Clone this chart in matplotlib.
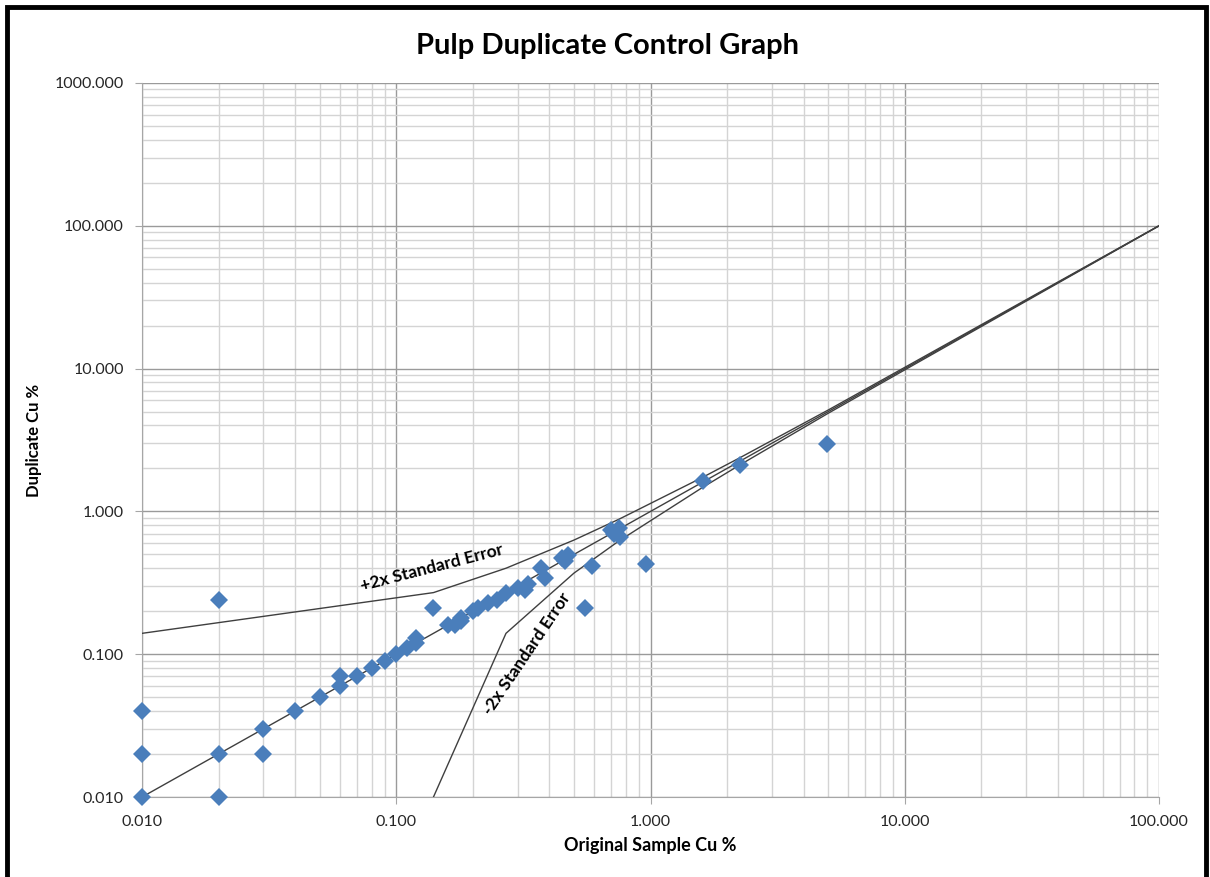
import matplotlib.pyplot as plt
from matplotlib.patches import Rectangle
from matplotlib.ticker import LogLocator, FixedLocator, FuncFormatter, NullFormatter

plt.rcParams['font.family'] = ['Lato', 'DejaVu Sans']

# Duplikatpar lest av fra grafen (original, duplikat)
original = [0.01, 0.01, 0.01, 0.02, 0.02, 0.02, 0.03, 0.03, 0.04, 0.05,
            0.06, 0.06, 0.07, 0.08, 0.09, 0.10, 0.11, 0.12, 0.12, 0.14,
            0.16, 0.17, 0.18, 0.18, 0.20, 0.21, 0.23, 0.25, 0.27, 0.30,
            0.32, 0.33, 0.37, 0.385, 0.45, 0.475, 0.46, 0.55, 0.59, 0.70,
            0.75, 0.76, 0.72, 0.96, 1.61, 2.25, 4.95]
duplicate = [0.04, 0.02, 0.01, 0.24, 0.02, 0.01, 0.03, 0.02, 0.04, 0.05,
             0.07, 0.06, 0.07, 0.08, 0.09, 0.10, 0.11, 0.13, 0.12, 0.21,
             0.16, 0.16, 0.17, 0.18, 0.20, 0.21, 0.23, 0.24, 0.27, 0.29,
             0.28, 0.31, 0.40, 0.34, 0.47, 0.495, 0.45, 0.21, 0.415, 0.74,
             0.76, 0.665, 0.70, 0.43, 1.63, 2.10, 2.95]

# 1:1-linje og +/- 2x standardfeil (knekkpunkter lest av)
line_x = [0.01, 100]
line_y = [0.01, 100]
plus_x = [0.01, 0.14, 0.27, 0.5, 0.75, 1.6, 2.25, 5.0, 100]
plus_y = [0.14, 0.27, 0.40, 0.63, 0.88, 1.73, 2.38, 5.13, 100.13]
minus_x = [0.14, 0.27, 0.5, 0.75, 1.6, 2.25, 5.0, 100]
minus_y = [0.01, 0.14, 0.37, 0.62, 1.47, 2.12, 4.87, 99.87]

fig = plt.figure(figsize=(12.1, 8.77), dpi=100)
ax = fig.add_axes([0.1174, 0.0912, 0.8405, 0.8142])

ax.plot(line_x, line_y, color='#3f3f3f', lw=1.0, zorder=3)
ax.plot(plus_x, plus_y, color='#3f3f3f', lw=1.0, zorder=3)
ax.plot(minus_x, minus_y, color='#3f3f3f', lw=1.0, zorder=3)
ax.plot(original, duplicate, 'D', color='#4a7ebb', markersize=9.5,
        markeredgewidth=0, zorder=4, clip_on=False)

ax.set_xscale('log')
ax.set_yscale('log')
ax.set_xlim(0.01, 100)
ax.set_ylim(0.01, 1000)

fmt = FuncFormatter(lambda v, p: '%.3f' % v)
ax.xaxis.set_major_locator(FixedLocator([0.01, 0.1, 1, 10, 100]))
ax.yaxis.set_major_locator(FixedLocator([0.01, 0.1, 1, 10, 100, 1000]))
ax.xaxis.set_major_formatter(fmt)
ax.yaxis.set_major_formatter(fmt)
ax.xaxis.set_minor_locator(LogLocator(base=10, subs=range(2, 10)))
ax.yaxis.set_minor_locator(LogLocator(base=10, subs=range(2, 10)))
ax.xaxis.set_minor_formatter(NullFormatter())
ax.yaxis.set_minor_formatter(NullFormatter())

ax.grid(True, which='major', color='#9a9a9a', lw=1.0)
ax.grid(True, which='minor', color='#d4d4d4', lw=1.0)
ax.set_axisbelow(True)

ax.tick_params(which='major', length=5, color='#a6a6a6', labelsize=11.5,
               labelcolor='#262626', pad=8)
ax.tick_params(which='minor', length=0)
for s in ['top', 'right']:
    ax.spines[s].set_visible(False)
for s in ['left', 'bottom']:
    ax.spines[s].set_color('#a6a6a6')

ax.set_xlabel('Original Sample Cu %', fontsize=13, fontweight='bold', labelpad=6)
ax.set_ylabel('Duplicate Cu %', fontsize=12, fontweight='bold')
ax.yaxis.set_label_coords(-0.098, 0.5)
fig.text(0.502, 0.948, 'Pulp Duplicate Control Graph', ha='center', va='center',
         fontsize=21, fontweight='bold')

ax.text(0.138, 0.40, '+2x Standard Error', rotation=14.5, ha='center', va='center',
        fontsize=12.5, fontweight='bold', zorder=5)
ax.text(0.325, 0.10, '-2x Standard Error', rotation=56, ha='center', va='center',
        fontsize=12.5, fontweight='bold', zorder=5)

# Ramme rundt figuren
fig.patches.append(Rectangle((0.0058, -0.02), 0.991, 1.012, transform=fig.transFigure,
                             fill=False, edgecolor='black', lw=3.5))

fig.savefig('out.png', dpi=100)
